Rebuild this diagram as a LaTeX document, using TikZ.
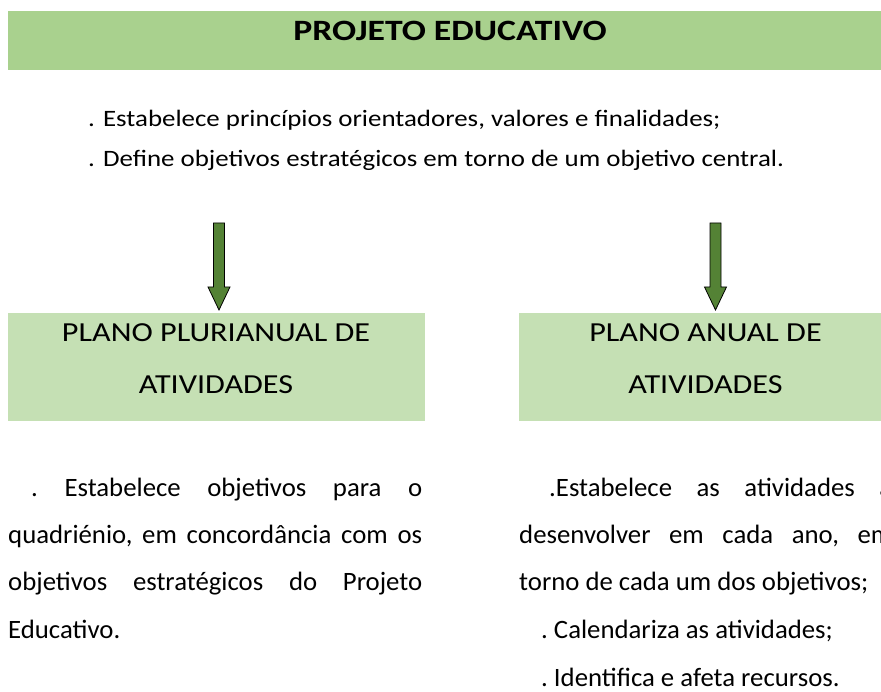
\documentclass[tikz,border=0pt]{standalone}
\usepackage{fontspec}
\setmainfont{Carlito}
\newfontfamily\titlefont[FakeStretch=1.21]{Carlito}
\newfontfamily\bulletfont[FakeStretch=1.145]{Carlito}
\newfontfamily\boxfont[FakeStretch=1.17]{Carlito}
\newfontfamily\parafont[FakeStretch=1.01]{Carlito}
\definecolor{titlegreen}{HTML}{A9D18E}
\definecolor{boxgreen}{HTML}{C5E0B4}
\definecolor{arrowgreen}{HTML}{548235}
\tikzset{
  bar/.style={fill=titlegreen, inner sep=0pt, anchor=north west},
  planbox/.style={fill=boxgreen, inner sep=0pt, anchor=north west, minimum width=417pt, minimum height=108pt},
  txt/.style={inner sep=0pt, anchor=base west, font=\bulletfont\fontsize{23.5}{28}\selectfont},
  ptxt/.style={inner sep=0pt, anchor=base west, font=\parafont\fontsize{26.5}{30}\selectfont\frenchspacing},
  btxt/.style={inner sep=0pt, anchor=base, font=\boxfont\fontsize{27.5}{30}\selectfont},
  blockarrow/.style={fill=arrowgreen, draw=black, line width=0.8pt, line join=miter}
}
\begin{document}
\begin{tikzpicture}[x=1pt,y=-1pt]
\useasboundingbox (0,0) rectangle (881,692);
\clip (0,0) rectangle (881,692);
% title bar
\node[bar, minimum width=884pt, minimum height=59pt] (title) at (8,11) {};
\node[inner sep=0pt, anchor=base, font=\titlefont\bfseries\fontsize{29.5}{32}\selectfont] (titletext) at (450,41) {PROJETO EDUCATIVO};
% bullets
\node[txt] (b1) at (88,127) {. Estabelece princípios orientadores, valores e finalidades;};
\node[txt] (b2) at (88,167) {. Define objetivos estratégicos em torno de um objetivo central.};
% arrows
\draw[blockarrow] (213.5,223) -- (224.5,223) -- (224.5,287) -- (230,287) -- (219,310) -- (208,287) -- (213.5,287) -- cycle;
\draw[blockarrow] (710,223) -- (721,223) -- (721,287) -- (726.5,287) -- (715.5,310) -- (704.5,287) -- (710,287) -- cycle;
% boxes
\node[planbox] (pp) at (8,313) {};
\node[planbox, minimum width=373pt] (pa) at (519,313) {};
\node[btxt] (pp1) at (216,342) {PLANO PLURIANUAL DE};
\node[btxt] (pp2) at (216,394) {ATIVIDADES};
\node[btxt] (pa1) at (705.5,342) {PLANO ANUAL DE};
\node[btxt] (pa2) at (705.5,394) {ATIVIDADES};
% left paragraph
\node[ptxt] (l1) at (31,496) {\makebox[391pt][s]{. Estabelece objetivos para o}};
\node[ptxt] (l2) at (8,543) {\makebox[414pt][s]{quadriénio, em concordância com os}};
\node[ptxt] (l3) at (8,590) {\makebox[414pt][s]{objetivos estratégicos do Projeto}};
\node[ptxt] (l4) at (8,638) {Educativo.};
% right paragraph
\node[ptxt] (r1) at (549,496) {\makebox[343pt][s]{.Estabelece as atividades a}};
\node[ptxt] (r2) at (519,543) {\makebox[373pt][s]{desenvolver em cada ano, em}};
\node[ptxt] (r3) at (519,590) {torno de cada um dos objetivos;};
\node[ptxt] (r4) at (541,638) {. Calendariza as atividades;};
\node[ptxt] (r5) at (541,686) {. Identifica e afeta recursos.};
\end{tikzpicture}
\end{document}
